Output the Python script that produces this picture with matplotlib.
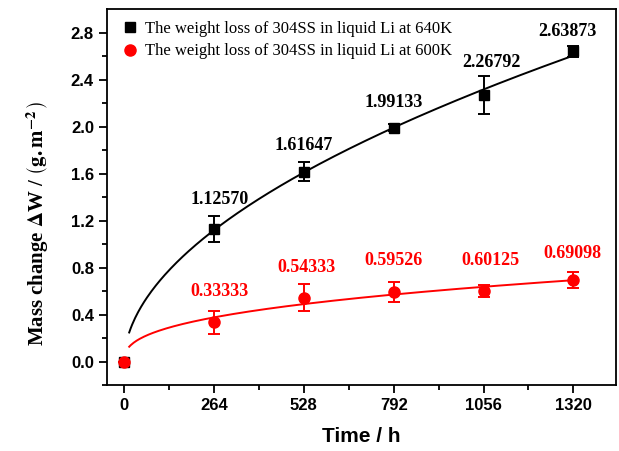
import numpy as np
import matplotlib.pyplot as plt
from matplotlib.lines import Line2D

# data
time_h = np.array([0, 264, 528, 792, 1056, 1320])
loss_640 = np.array([0.0, 1.12570, 1.61647, 1.99133, 2.26792, 2.63873])
err_640 = np.array([0.0, 0.11, 0.078, 0.03, 0.16, 0.045])
loss_600 = np.array([0.0, 0.33333, 0.54333, 0.59526, 0.60125, 0.69098])
err_600 = np.array([0.0, 0.10, 0.116, 0.085, 0.052, 0.068])
label_640 = ['1.12570', '1.61647', '1.99133', '2.26792', '2.63873']
label_600 = ['0.33333', '0.54333', '0.59526', '0.60125', '0.69098']
xticks = [0, 264, 528, 792, 1056, 1320]
yticks = [0.0, 0.4, 0.8, 1.2, 1.6, 2.0, 2.4, 2.8]

# label offsets (points) to sit the numbers like the original
off_640 = [(4, 15), (0, 13), (0, 12), (6, 17), (-4, 8)]
off_600 = [(4, 16), (2, 16), (0, 16), (5, 16), (-1, 13)]

plt.rcParams['mathtext.fontset'] = 'stix'

def powfit(t, y):
    # allometric fit y = a*t^b, least squares in linear space
    best = None
    for b in np.linspace(0.1, 1.0, 901):
        tb = t**b
        a = np.sum(y*tb)/np.sum(tb*tb)
        r = np.sum((y - a*tb)**2)
        if best is None or r < best[0]:
            best = (r, a, b)
    return best[1], best[2]

tfit = np.linspace(15, 1320, 300)
a1, b1 = powfit(time_h[1:], loss_640[1:])
a2, b2 = powfit(time_h[1:], loss_600[1:])

fig = plt.figure(figsize=(6.19, 4.51), dpi=100)
ax = fig.add_axes([0.173, 0.146, 0.822, 0.834])

ax.plot(tfit, a1*tfit**b1, color='black', lw=1.4)
ax.plot(tfit, a2*tfit**b2, color='red', lw=1.4)
ax.errorbar(time_h, loss_640, yerr=err_640, fmt='s', color='black', ms=7, capsize=4, elinewidth=1.4, capthick=1.4)
ax.errorbar(time_h, loss_600, yerr=err_600, fmt='o', color='red', ms=8, capsize=4, elinewidth=1.4, capthick=1.4)

for x, y, s, o in zip(time_h[1:], loss_640[1:], label_640, off_640):
    ax.annotate(s, (x, y), xytext=o, textcoords='offset points', ha='center', va='bottom',
                fontsize=13, fontweight='bold', family='Liberation Serif', color='black')
for x, y, s, o in zip(time_h[1:], loss_600[1:], label_600, off_600):
    ax.annotate(s, (x, y), xytext=o, textcoords='offset points', ha='center', va='bottom',
                fontsize=13, fontweight='bold', family='Liberation Serif', color='red')

ax.set_xlim(-50, 1445)
ax.set_ylim(-0.2, 3.0)
ax.set_xticks(xticks)
ax.set_yticks(yticks)
ax.set_xticks([132, 396, 660, 924, 1188], minor=True)
ax.set_yticks(np.arange(-0.2, 3.0, 0.4), minor=True)
ax.tick_params(which='both', direction='out', top=False, right=False, width=1.3)
ax.tick_params(which='major', length=6)
ax.tick_params(which='minor', length=3.5)
for t in ax.get_xticklabels() + ax.get_yticklabels():
    t.set_family('Liberation Sans'); t.set_fontweight('bold'); t.set_fontsize(12)
for sp in ax.spines.values():
    sp.set_linewidth(1.3)

ax.set_xlabel('Time / h', fontsize=15, fontweight='bold', family='Liberation Sans', labelpad=10)
ax.set_ylabel(r'Mass change $\mathbf{\Delta}$W / $\left(\mathbf{g.m}^{\mathbf{-2}^{\,}}_{\,}\right)$', fontsize=15,
              fontweight='bold', family='Liberation Serif')
ax.yaxis.set_label_coords(-0.11, 0.43)

handles = [Line2D([], [], ls='', marker='s', ms=7, color='black'),
           Line2D([], [], ls='', marker='o', ms=8, color='red')]
ax.legend(handles, ['The weight loss of 304SS in liquid Li at 640K', 'The weight loss of 304SS in liquid Li at 600K'],
          loc='upper left', frameon=False, prop={'family': 'Liberation Serif', 'size': 12},
          handletextpad=0.3, handlelength=1.3, borderaxespad=0.3, labelspacing=0.4)

fig.savefig('out.png', dpi=100)
